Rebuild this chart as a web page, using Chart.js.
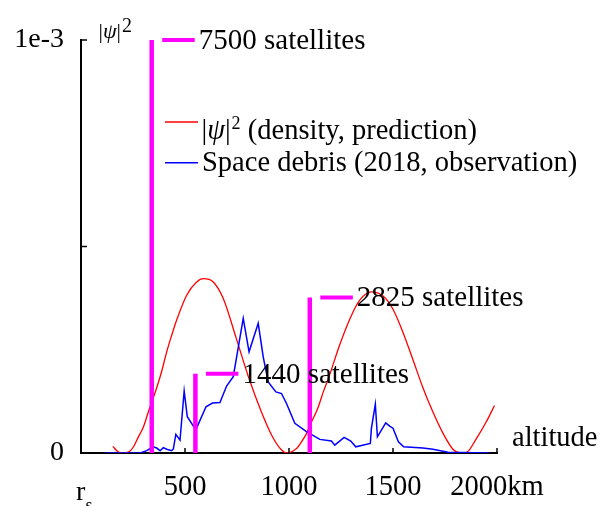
<!DOCTYPE html>
<html>
<head>
<meta charset="utf-8">
<script src="https://cdn.jsdelivr.net/npm/chart.js@4/dist/chart.umd.min.js"></script>
<style>
  html, body { margin: 0; padding: 0; background: #fff; }
  canvas { display: block; }
</style>
</head>
<body>
<canvas id="chart" width="601" height="506"></canvas>
<script>
// |psi|^2 values are given in units of 1e-3
const UNIT = 1e-3;

// Predicted density |psi|^2 along altitude (km)
const densityAltitudes = [153, 180, 202, 228, 252, 276, 300, 328, 348, 364, 388, 412, 436, 460, 508, 556, 588, 636, 684, 745, 804, 867, 920, 961, 989,
  1036, 1060, 1084, 1108, 1138, 1167, 1189, 1244, 1292, 1340, 1396, 1452, 1500, 1548, 1596, 1644, 1692, 1740, 1788, 1810, 1834, 1856, 1900, 1948, 1988];
const densityValues = [0.016, 0.002, 0, 0.002, 0.0145, 0.039, 0.063, 0.106, 0.134, 0.158, 0.198, 0.245, 0.285, 0.322, 0.382, 0.414, 0.422, 0.414, 0.374, 0.280, 0.186, 0.100, 0.040, 0.009, 0,
  0.011, 0.027, 0.047, 0.075, 0.108, 0.151, 0.180, 0.262, 0.324, 0.370, 0.390, 0.380, 0.348, 0.292, 0.226, 0.158, 0.099, 0.048, 0.009, 0.002, 0, 0.002, 0.034, 0.075, 0.115];

// Observed space debris (2018) along altitude (km)
const debrisAltitudes = [116, 284, 316, 346, 364, 380, 396, 412, 436, 444, 456, 476, 496, 511, 552, 601, 632, 668, 700, 732, 780, 808, 852, 876, 900, 937, 964, 988,
  1028, 1084, 1148, 1204, 1220, 1265, 1297, 1321, 1391, 1396, 1415, 1425, 1465, 1484, 1500, 1526, 1551, 1644, 1692, 1764, 1964];
const debrisValues = [0, 0, 0.0056, 0.015, 0.012, 0.0056, 0.013, 0.009, 0.0056, 0.0097, 0.045, 0.031, 0.150, 0.088, 0.056, 0.112, 0.121, 0.122, 0.162, 0.185, 0.326, 0.245, 0.314, 0.233, 0.172, 0.148, 0.144, 0.120,
  0.072, 0.052, 0.033, 0.029, 0.019, 0.038, 0.029, 0.015, 0.023, 0.059, 0.118, 0.039, 0.073, 0.065, 0.060, 0.027, 0.015, 0.012, 0.009, 0.002, 0];

// Satellite shells: altitude (km) and number of satellites
const shellAltitudes = [340, 550, 1100];
const shellCounts = [7500, 1440, 2825];
const fullScaleCount = 7500;   // this count reaches the top of the |psi|^2 axis

// Axis ticks
const xTicks = [0, 500, 1000, 1500, 2000];
const xTickLabels = ['', '500', '1000', '1500', '2000km'];
const yTicks = [0, 0.5, 1];
const yTickLabels = ['0', '', '1e-3'];

const SERIF = "'Liberation Serif', 'Times New Roman', serif";
const MAGENTA = '#ff00ff';

const datasets = [];
shellAltitudes.forEach((alt, i) => {
  datasets.push({
    label: shellCounts[i] + ' satellites',
    data: [{ x: alt, y: 0 }, { x: alt, y: shellCounts[i] / fullScaleCount * UNIT }],
    borderColor: MAGENTA,
    borderWidth: 4.5,
    borderCapStyle: 'butt',
    pointRadius: 0,
    order: 0
  });
});
datasets.push({
  label: '|ψ|² (density, prediction)',
  data: densityAltitudes.map((a, i) => ({ x: a, y: densityValues[i] * UNIT })),
  borderColor: '#ff0000',
  borderWidth: 1.3,
  pointRadius: 0,
  cubicInterpolationMode: 'monotone',
  order: 2
});
datasets.push({
  label: 'Space debris (2018, observation)',
  data: debrisAltitudes.map((a, i) => ({ x: a, y: debrisValues[i] * UNIT })),
  borderColor: '#0000ff',
  borderWidth: 1.5,
  pointRadius: 0,
  tension: 0,
  order: 1
});

// draws "|ψ|" with an italic psi and a superscript 2; returns the end x
function drawPsiSquared(ctx, x, base, size, supSize, supBase) {
  ctx.textAlign = 'left';
  ctx.textBaseline = 'alphabetic';
  ctx.font = size + 'px ' + SERIF;
  ctx.fillText('|', x, base);
  x += ctx.measureText('|').width;
  ctx.font = 'italic ' + size + 'px ' + SERIF;
  ctx.fillText('ψ', x, base);
  x += ctx.measureText('ψ').width;
  ctx.font = size + 'px ' + SERIF;
  ctx.fillText('|', x, base);
  x += ctx.measureText('|').width + 1;
  ctx.font = supSize + 'px ' + SERIF;
  ctx.fillText('2', x, supBase);
  x += ctx.measureText('2').width;
  return x;
}

const decorations = {
  id: 'decorations',
  afterDraw(chart) {
    const { ctx, chartArea: area } = chart;
    const xs = chart.scales.x, ys = chart.scales.y;
    ctx.save();
    ctx.fillStyle = '#000';
    ctx.strokeStyle = '#000';

    // inward tick marks
    ctx.lineWidth = 1.5;
    ys.ticks.forEach(t => {
      const py = ys.getPixelForValue(t.value);
      ctx.beginPath(); ctx.moveTo(area.left, py); ctx.lineTo(area.left + 6, py); ctx.stroke();
    });
    xs.ticks.forEach(t => {
      if (t.value === 0) return;
      const px = xs.getPixelForValue(t.value);
      ctx.beginPath(); ctx.moveTo(px, area.bottom); ctx.lineTo(px, area.bottom - 5); ctx.stroke();
    });

    // axis titles
    drawPsiSquared(ctx, 98.5, 38, 22, 20, 31.7);
    ctx.font = '28.5px ' + SERIF;
    ctx.fillText('altitude', 512, 445.5);
    const x0 = xs.getPixelForValue(0);
    ctx.font = '28px ' + SERIF;
    ctx.fillText('r', x0 - 5, 500);
    ctx.font = '18px ' + SERIF;
    ctx.fillText('s', x0 + 4.5, 511);

    // satellite shell labels with leader dashes
    shellAltitudes.forEach((alt, i) => {
      const bx = xs.getPixelForValue(alt);
      const by = ys.getPixelForValue(shellCounts[i] / fullScaleCount * UNIT);
      ctx.strokeStyle = MAGENTA;
      ctx.lineWidth = 4;
      ctx.beginPath(); ctx.moveTo(bx + 10.5, by); ctx.lineTo(bx + 43, by); ctx.stroke();
      ctx.fillStyle = '#000';
      ctx.font = '29px ' + SERIF;
      ctx.textAlign = 'left';
      ctx.textBaseline = 'alphabetic';
      ctx.fillText(shellCounts[i] + ' satellites', bx + 47, by + 9);
    });

    // legend
    const legendItems = [
      { color: '#ff0000', width: 1.3, lineY: 122, base: 139 },
      { color: '#0000ff', width: 1.5, lineY: 162.7, base: 171 }
    ];
    legendItems.forEach(item => {
      ctx.strokeStyle = item.color;
      ctx.lineWidth = item.width;
      ctx.beginPath(); ctx.moveTo(165, item.lineY); ctx.lineTo(198, item.lineY); ctx.stroke();
    });
    ctx.fillStyle = '#000';
    const lx = drawPsiSquared(ctx, 201.5, legendItems[0].base, 28.5, 18, 128.5);
    ctx.font = '28.5px ' + SERIF;
    ctx.fillText(' (density, prediction)', lx, legendItems[0].base);
    ctx.fillText('Space debris (2018, observation)', 202, legendItems[1].base);

    ctx.restore();
  }
};

new Chart(document.getElementById('chart'), {
  type: 'line',
  data: { datasets },
  options: {
    responsive: false,
    animation: false,
    events: [],
    layout: { padding: { top: 40, right: 104, left: 0, bottom: 0 } },
    plugins: { legend: { display: false }, tooltip: { enabled: false } },
    scales: {
      x: {
        type: 'linear',
        min: 0, max: 2000,
        afterBuildTicks: s => { s.ticks = xTicks.map(v => ({ value: v })); },
        afterFit: s => { s.height = 53; },
        grid: { display: false, drawTicks: false },
        border: { display: true, color: '#000', width: 2 },
        ticks: {
          padding: 17,
          maxRotation: 0,
          autoSkip: false,
          color: '#000',
          font: { family: SERIF, size: 28.5 },
          callback: v => xTickLabels[xTicks.indexOf(v)]
        }
      },
      y: {
        type: 'linear',
        min: 0, max: UNIT,
        afterBuildTicks: s => { s.ticks = yTicks.map(v => ({ value: v * UNIT })); },
        afterFit: s => { s.width = 81; },
        grid: { display: false, drawTicks: false },
        border: { display: true, color: '#000', width: 2 },
        ticks: {
          padding: 17,
          color: '#000',
          font: { family: SERIF, size: 28 },
          callback: (v, i) => yTickLabels[i]
        }
      }
    }
  },
  plugins: [decorations]
});
</script>
</body>
</html>
